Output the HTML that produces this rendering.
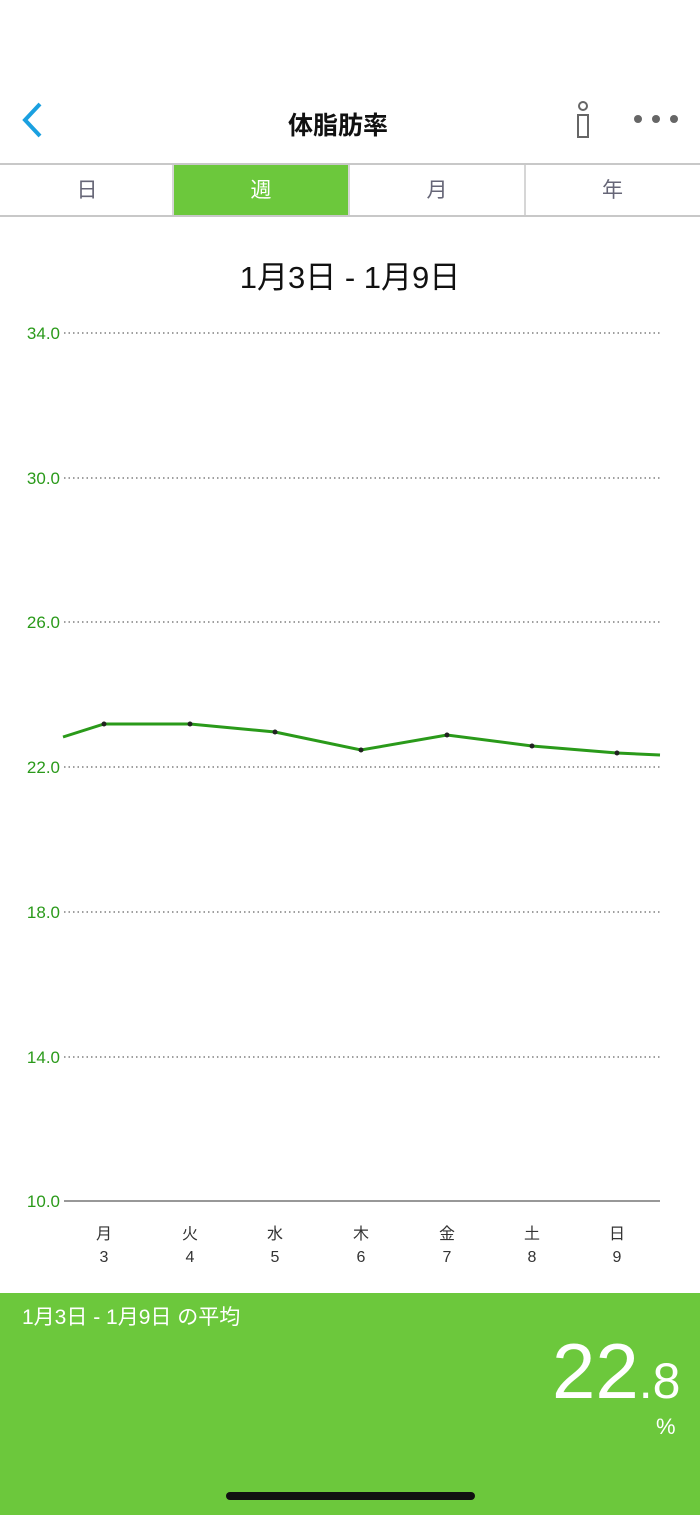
<!DOCTYPE html>
<html><head><meta charset="utf-8"><style>
body{margin:0;width:700px;height:1515px;position:relative;background:#fff;font-family:"Liberation Sans","Noto Sans CJK JP",sans-serif;overflow:hidden}
.a{position:absolute}
</style></head><body>
<svg class="a" style="left:0;top:0" width="700" height="1515">
<polyline points="40,104 25,120 40,136" fill="none" stroke="#1aa0e0" stroke-width="4"/>
<circle cx="583" cy="106" r="4" fill="none" stroke="#666" stroke-width="2"/>
<rect x="578" y="115" width="10" height="22" fill="none" stroke="#666" stroke-width="2"/>
<circle cx="638" cy="119" r="4" fill="#666"/><circle cx="656" cy="119" r="4" fill="#666"/><circle cx="674" cy="119" r="4" fill="#666"/>
<line x1="0" y1="164" x2="700" y2="164" stroke="#c8c8c8" stroke-width="2"/>
<line x1="0" y1="216" x2="700" y2="216" stroke="#c8c8c8" stroke-width="2"/>
<rect x="174" y="165" width="174" height="50" fill="#6cc83c"/>
<line x1="173" y1="164" x2="173" y2="216" stroke="#c8c8c8" stroke-width="1.5"/>
<line x1="349" y1="164" x2="349" y2="216" stroke="#c8c8c8" stroke-width="1.5"/>
<line x1="525" y1="164" x2="525" y2="216" stroke="#c8c8c8" stroke-width="1.5"/>
<g stroke="#666" stroke-width="1.3" stroke-dasharray="1.5,3">
<line x1="64" y1="333" x2="660" y2="333"/><line x1="64" y1="478" x2="660" y2="478"/>
<line x1="64" y1="622" x2="660" y2="622"/><line x1="64" y1="767" x2="660" y2="767"/>
<line x1="64" y1="912" x2="660" y2="912"/><line x1="64" y1="1057" x2="660" y2="1057"/>
</g>
<line x1="64" y1="1201" x2="660" y2="1201" stroke="#777" stroke-width="1.5"/>
<g font-size="17" fill="#2a9a1a" text-anchor="end" font-family="Liberation Sans,sans-serif">
<text x="60" y="339">34.0</text><text x="60" y="484">30.0</text><text x="60" y="628">26.0</text>
<text x="60" y="773">22.0</text><text x="60" y="918">18.0</text><text x="60" y="1063">14.0</text><text x="60" y="1207">10.0</text>
</g>
<polyline points="63,737 104,724 190,724 275,732 361,750 447,735 532,746 617,753 660,755" fill="none" stroke="#2a9a1a" stroke-width="3"/>
<g fill="#222"><circle cx="104" cy="724" r="2.5"/><circle cx="190" cy="724" r="2.5"/><circle cx="275" cy="732" r="2.5"/><circle cx="361" cy="750" r="2.5"/><circle cx="447" cy="735" r="2.5"/><circle cx="532" cy="746" r="2.5"/><circle cx="617" cy="753" r="2.5"/></g>
<g font-size="16" fill="#333" text-anchor="middle">
<text x="104" y="1239">月</text><text x="190" y="1239">火</text><text x="275" y="1239">水</text><text x="361" y="1239">木</text><text x="447" y="1239">金</text><text x="532" y="1239">土</text><text x="617" y="1239">日</text>
<text x="104" y="1262">3</text><text x="190" y="1262">4</text><text x="275" y="1262">5</text><text x="361" y="1262">6</text><text x="447" y="1262">7</text><text x="532" y="1262">8</text><text x="617" y="1262">9</text>
</g>
<rect x="0" y="1293" width="700" height="222" fill="#6cc83c"/>
<rect x="226" y="1492" width="249" height="8" rx="4" fill="#111"/>
</svg>
<div class="a" style="left:0;width:676px;top:106px;text-align:center;font-size:25px;font-weight:bold;color:#111">体脂肪率</div>
<div class="a" style="left:0;width:174px;top:174px;text-align:center;font-size:21px;color:#667">日</div>
<div class="a" style="left:174px;width:174px;top:174px;text-align:center;font-size:21px;color:#fff">週</div>
<div class="a" style="left:349px;width:176px;top:174px;text-align:center;font-size:21px;color:#667">月</div>
<div class="a" style="left:525px;width:175px;top:174px;text-align:center;font-size:21px;color:#667">年</div>
<div class="a" style="left:0;width:700px;top:252px;text-align:center;font-size:31px;color:#111">1月3日 - 1月9日</div>
<div class="a" style="left:22px;top:1301px;font-size:21px;color:#fff">1月3日 - 1月9日 の平均</div>
<div class="a" style="left:552px;top:1326px;font-size:78px;color:#fff;font-weight:300">22<span style="font-size:50px">.8</span></div>
<div class="a" style="left:656px;top:1414px;font-size:22px;color:#fff">%</div>
</body></html>
